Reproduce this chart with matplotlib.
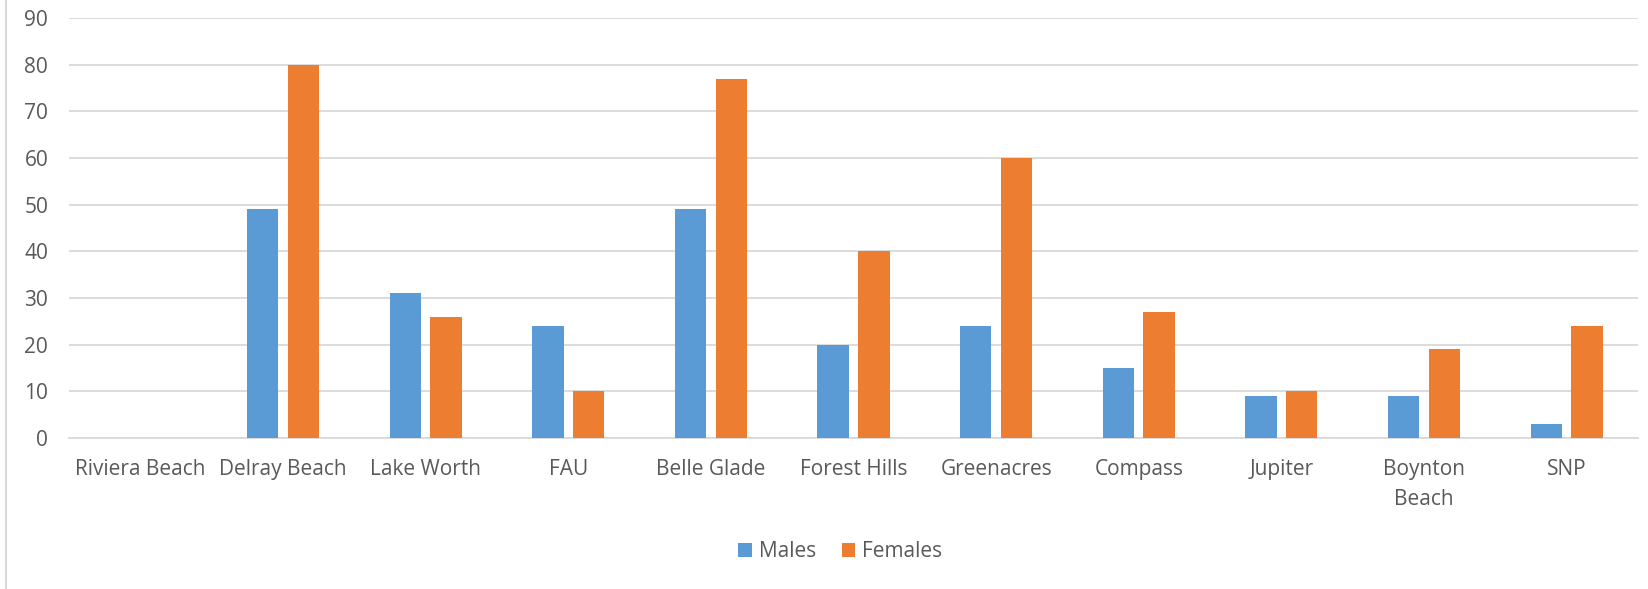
import matplotlib
matplotlib.use("Agg")
import matplotlib.pyplot as plt
from matplotlib.lines import Line2D
import numpy as np

plt.rcParams['font.family'] = ['Open Sans', 'DejaVu Sans']

# data
sites = ["Riviera Beach", "Delray Beach", "Lake Worth", "FAU", "Belle Glade",
         "Forest Hills", "Greenacres", "Compass", "Jupiter", "Boynton\nBeach", "SNP"]
males = [0, 49, 31, 24, 49, 20, 24, 15, 9, 9, 3]
females = [0, 80, 26, 10, 77, 40, 60, 27, 10, 19, 24]

blue = "#5B9BD5"
orange = "#ED7D31"
txt = "#595959"
grid = "#D9D9D9"

fig = plt.figure(figsize=(16.48, 5.89), dpi=100)
ax = fig.add_axes([0.0419, 0.2564, 0.952, 0.713])

x = np.arange(len(sites))
w = 0.22
off = 0.143
ax.bar(x - off, males, w, color=blue, label="Males", zorder=3)
ax.bar(x + off, females, w, color=orange, label="Females", zorder=3)

ax.set_xlim(-0.5, len(sites) - 0.5)
ax.set_ylim(0, 90)
ax.set_yticks(range(0, 91, 10))
ax.set_xticks(x)
ax.set_xticklabels(sites, linespacing=1.55)
ax.yaxis.grid(True, color=grid, linewidth=1.3, zorder=0)
ax.set_axisbelow(True)

for s in ["top", "right", "left"]:
    ax.spines[s].set_visible(False)
ax.spines["bottom"].set_color(grid)
ax.spines["bottom"].set_linewidth(1.3)

ax.tick_params(axis="both", length=0, labelsize=15, colors=txt)
ax.tick_params(axis="y", pad=15)
ax.tick_params(axis="x", pad=15)

# chart area border on the left
fig.add_artist(Line2D([0.0035, 0.0035], [0, 1], transform=fig.transFigure,
                      color=grid, linewidth=1.5))

leg = fig.legend(loc="center", bbox_to_anchor=(0.51, 0.063), ncol=2, frameon=False,
                 fontsize=15, handlelength=0.65, handleheight=0.65,
                 handletextpad=0.35, columnspacing=1.2)
for t in leg.get_texts():
    t.set_color(txt)

fig.savefig("out.png", dpi=100)
